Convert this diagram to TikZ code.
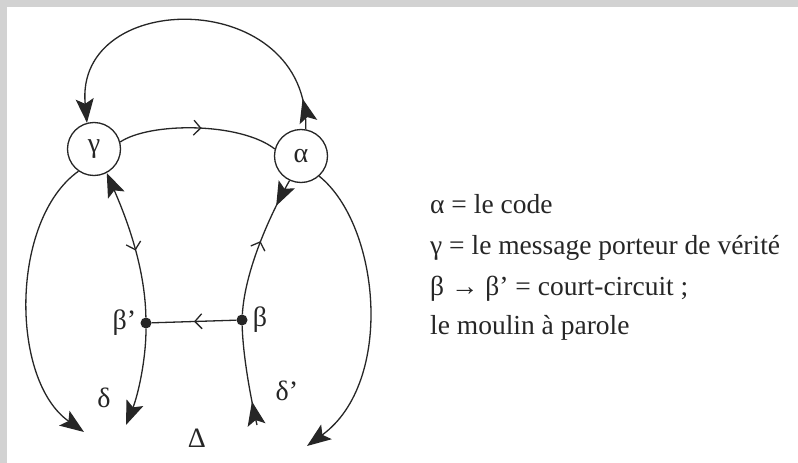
\documentclass[tikz,border=0pt]{standalone}
\usepackage{fontspec}
\setmainfont{Liberation Serif}
\usetikzlibrary{arrows.meta,decorations.markings,positioning}

\begin{document}
\begin{tikzpicture}[x=1pt, y=-1pt,
  wire/.style={draw=\dgInk, line width=\dgLineWidth},
  letter/.style={font=\fontsize{28}{32}\selectfont, text=\dgInk, inner sep=1pt},
  station/.style={circle, draw=\dgInk, line width=\dgLineWidth, minimum size=53pt, inner sep=0pt, letter},
  junction/.style={circle, fill=\dgInk, minimum size=11pt, inner sep=0pt},
  fullmark/.style={postaction={decorate, decoration={markings,
    mark=at position #1 with {\arrow{Stealth[length=24pt,width=18pt,inset=5pt]}}}}},
  openmark/.style={postaction={decorate, decoration={markings,
    mark=at position #1 with {\arrow{Straight Barb[length=7pt,width=15pt]}}}}},
  openback/.style={postaction={decorate, decoration={markings,
    mark=at position #1 with {\arrow{Straight Barb[length=7pt,width=15pt,reversed]}}}}},
  legend/.style={anchor=base west, font=\fontsize{27.5}{32}\selectfont, text=\dgInk, inner sep=0pt},
  >={Stealth[length=24pt,width=18pt,inset=5pt]}]
% circuit of the speech mill
\providecommand{\dgInk}{black!85}
\providecommand{\dgLineWidth}{1.3pt}
\useasboundingbox (0,0) rectangle (798,463);
% Page shadow and sheet
\fill[gray!35] (0,0) rectangle (798,463);
\fill[white] (7,7) rectangle (798,463);
% Stations and junctions
\node[station] (gam) at (94,149) {γ};
\node[station] (alp) at (301,156) {α};
\node[junction] (bp) at (146,323) {};
\node[junction] (bt) at (242,320) {};
\node[letter, left=3pt of bp] (bplab) {β'};
\node[letter, right=4pt of bt] (btlab) {β};
% Free ends
\coordinate (d1) at (84,432);
\coordinate (d2) at (126,425);
\coordinate (d3) at (257,425);
\coordinate (d4) at (307,446);
% Connectors
\begin{scope}[wire]
  \draw[->, fullmark=0.09] (alp.80) .. controls (310,-13) and (74,-13) .. (gam.105);
  \draw[openmark=0.52] (gam.15) .. controls (150,122) and (240,122) .. (alp.165);
  \draw[->] (gam.235) .. controls (10,220) and (10,380) .. (d1);
  \draw[<-, openmark=0.55] (gam.298) .. controls (125,215) and (145,265) .. (bp);
  \draw[->] (bp) .. controls (146,360) and (138,395) .. (d2);
  \draw[openmark=0.5] (bt) -- (bp);
  \draw[fullmark=0.2, openback=0.53] (alp.245) .. controls (270,215) and (245,270) .. (bt);
  \draw[fullmark=0.24] (d3) .. controls (250,395) and (243,355) .. (bt);
  \draw[->] (alp.312) .. controls (380,225) and (395,382) .. (d4);
\end{scope}
% Branch labels
\node[letter] (dl) at (104,398) {δ};
\node[letter] (dr) at (287,391) {δ'};
\node[letter] (del) at (197,438) {Δ};
% Legend
\node[legend] (leg1) at (430,213) {α = le code};
\node[legend] (leg2) at (430,254) {γ = le message porteur de vérité};
\node[legend] (leg3) at (430,295) {β → β' = court-circuit ;};
\node[legend] (leg4) at (430,334) {le moulin à parole};
\end{tikzpicture}
\end{document}
